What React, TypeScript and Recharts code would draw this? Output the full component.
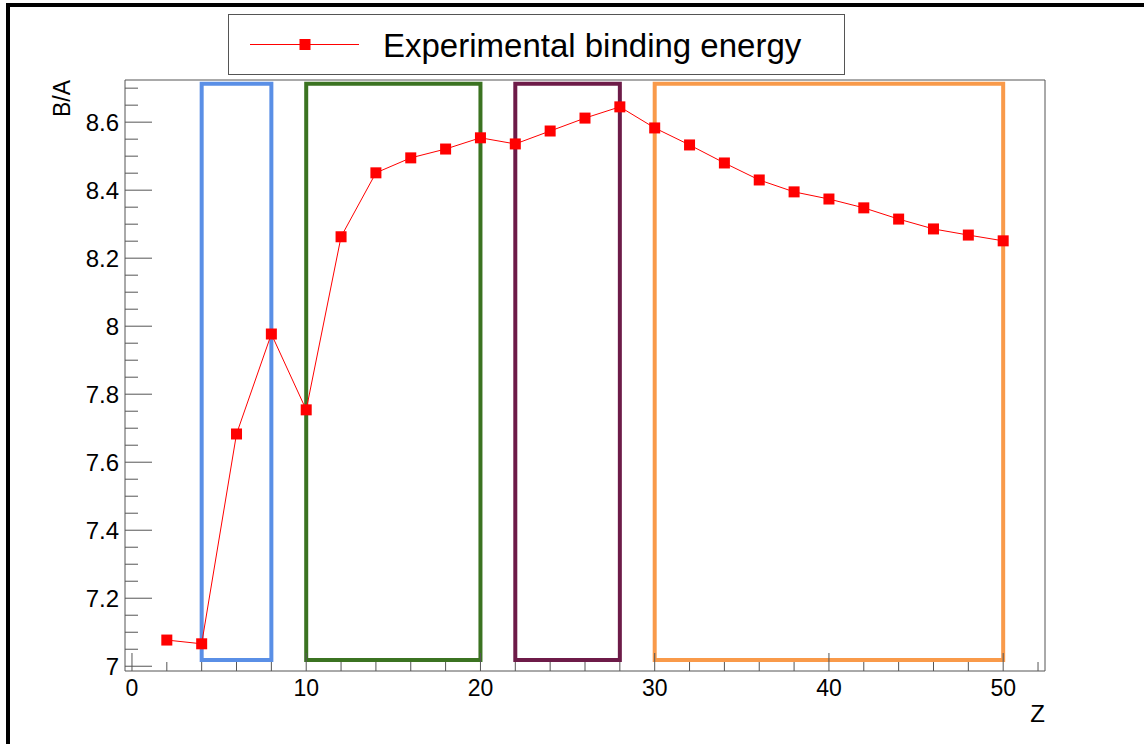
import React from 'react';
import { ComposedChart, Line, XAxis, YAxis, ReferenceArea, Legend, Label } from 'recharts';

// proton number Z and measured binding energy per nucleon (MeV)
const protonNumbers = [2, 4, 6, 8, 10, 12, 14, 16, 18, 20, 22, 24, 26, 28, 30, 32, 34, 36, 38, 40, 42, 44, 46, 48, 50];
const bindingPerNucleon = [
  7.077, 7.066, 7.683, 7.977, 7.754, 8.263, 8.451, 8.495, 8.521, 8.554, 8.536, 8.574, 8.612,
  8.645, 8.583, 8.533, 8.480, 8.430, 8.395, 8.374, 8.348, 8.315, 8.286, 8.268, 8.251,
];

// highlighted Z ranges
const regionStarts = [4, 10, 22, 30];
const regionEnds = [8, 20, 28, 50];
const regionBottom = 7.018;
const regionTop = 8.713;
const regionColors = ['#5a8fe6', '#3b7321', '#6d1b48', '#f99a4a'];

const xMajorTicks = [0, 10, 20, 30, 40, 50];
const xMinorTicks = [2, 4, 6, 8, 12, 14, 16, 18, 22, 24, 26, 28, 32, 34, 36, 38, 42, 44, 46, 48, 52];
const yMajorTicks = [7, 7.2, 7.4, 7.6, 7.8, 8, 8.2, 8.4, 8.6];

const xDomain = [-0.4, 52.4];
const yDomain = [6.986, 8.724];

// three minor ticks inside every major interval on y, kept inside the frame
const yMinorTicks: number[] = [];
yMajorTicks.forEach((v) => {
  for (let k = 1; k <= 3; k++) {
    const t = Math.round((v + k * 0.05) * 100) / 100;
    if (t <= yDomain[1]) yMinorTicks.push(t);
  }
});
const yAllTicks = [...yMajorTicks, ...yMinorTicks].sort((a, b) => a - b);
const xAllTicks = [...xMajorTicks, ...xMinorTicks].sort((a, b) => a - b);

const data = protonNumbers.map((z, i) => ({ z, ba: bindingPerNucleon[i] }));

const FONT = '"Liberation Sans", Arial, Helvetica, sans-serif';
const AXIS = '#555';

const YTick = (props: any) => {
  const { x, y, payload } = props;
  const major = yMajorTicks.includes(payload.value);
  return (
    <g>
      <line x1={x} x2={x + (major ? 27 : 13)} y1={y} y2={y} stroke={AXIS} strokeWidth={1} />
      {major && (
        <text x={x - 6} y={y} dy="0.36em" textAnchor="end" fontSize={24} fontFamily={FONT} fill="#000">
          {String(payload.value)}
        </text>
      )}
    </g>
  );
};

const XTick = (props: any) => {
  const { x, y, payload } = props;
  const major = xMajorTicks.includes(payload.value);
  return (
    <g>
      <line x1={x} x2={x} y1={y} y2={y - (major ? 18 : 9)} stroke={AXIS} strokeWidth={1} />
      {major && (
        <text x={x} y={y + 25} textAnchor="middle" fontSize={23} fontFamily={FONT} fill="#000">
          {String(payload.value)}
        </text>
      )}
    </g>
  );
};

const SquareDot = (props: any) => {
  const { cx, cy, index } = props;
  if (cx == null || cy == null) return <g key={index} />;
  return <rect key={index} x={cx - 5.5} y={cy - 5.5} width={11} height={11} fill="#ff0000" />;
};

const LegendBox = () => (
  <svg width={617} height={61} style={{ display: 'block' }}>
    <rect x={0.5} y={0.5} width={616} height={60} fill="#fff" stroke={AXIS} strokeWidth={1} />
    <line x1={22} x2={131} y1={30.5} y2={30.5} stroke="#ff0000" strokeWidth={1} />
    <rect x={71.5} y={25} width={11} height={11} fill="#ff0000" />
    <text x={155} y={42.5} fontSize={33} fontFamily={FONT} fill="#000">
      Experimental binding energy
    </text>
  </svg>
);

const XName = (props: any) => {
  const { x, y, width } = props.viewBox;
  return (
    <text x={x + width} y={y + 51} textAnchor="end" fontSize={24} fontFamily={FONT} fill="#000">
      Z
    </text>
  );
};

const YName = (props: any) => {
  const { x, y, width } = props.viewBox;
  return (
    <text
      transform={`translate(${x + width - 55}, ${y}) rotate(-90)`}
      textAnchor="end"
      fontSize={23}
      fontFamily={FONT}
      fill="#000"
    >
      B/A
    </text>
  );
};

export default function App() {
  return (
    <div style={{ position: 'absolute', left: 0, top: 0, width: 1144, height: 744, background: '#fff' }}>
      <div
        style={{
          position: 'absolute',
          left: 6,
          top: 3,
          width: 1140,
          height: 745,
          borderTop: '4px solid #000',
          borderLeft: '4px solid #000',
        }}
      />
      <ComposedChart
        width={1144}
        height={744}
        data={data}
        margin={{ top: 79, right: 98, bottom: 72, left: 124 }}
        style={{ position: 'absolute', left: 0, top: 0 }}
      >
        <XAxis
          type="number"
          dataKey="z"
          domain={xDomain}
          allowDataOverflow
          ticks={xAllTicks}
          interval={0}
          height={1}
          tickSize={0}
          tickMargin={0}
          tickLine={false}
          tick={<XTick />}
          stroke={AXIS}
        >
          <Label content={<XName />} />
        </XAxis>
        <YAxis
          type="number"
          domain={yDomain}
          allowDataOverflow
          ticks={yAllTicks}
          interval={0}
          width={1}
          tickSize={0}
          tickMargin={0}
          tickLine={false}
          tick={<YTick />}
          stroke={AXIS}
        >
          <Label content={<YName />} />
        </YAxis>
        <XAxis
          xAxisId="top"
          orientation="top"
          type="number"
          domain={xDomain}
          allowDataOverflow
          height={1}
          tick={false}
          tickLine={false}
          stroke={AXIS}
        />
        <YAxis
          yAxisId="right"
          orientation="right"
          type="number"
          domain={yDomain}
          allowDataOverflow
          width={1}
          tick={false}
          tickLine={false}
          stroke={AXIS}
        />
        {regionStarts.map((s, i) => (
          <ReferenceArea
            key={s}
            x1={s}
            x2={regionEnds[i]}
            y1={regionBottom}
            y2={regionTop}
            fill="none"
            fillOpacity={0}
            stroke={regionColors[i]}
            strokeWidth={4}
            strokeOpacity={1}
          />
        ))}
        <Legend
          layout="horizontal"
          verticalAlign="middle"
          align="center"
          content={<LegendBox />}
          wrapperStyle={{ left: 228, top: 14, width: 617, height: 61 }}
        />
        <Line
          type="linear"
          dataKey="ba"
          stroke="#ff0000"
          strokeWidth={1}
          dot={SquareDot}
          activeDot={false}
          isAnimationActive={false}
        />
      </ComposedChart>
    </div>
  );
}
